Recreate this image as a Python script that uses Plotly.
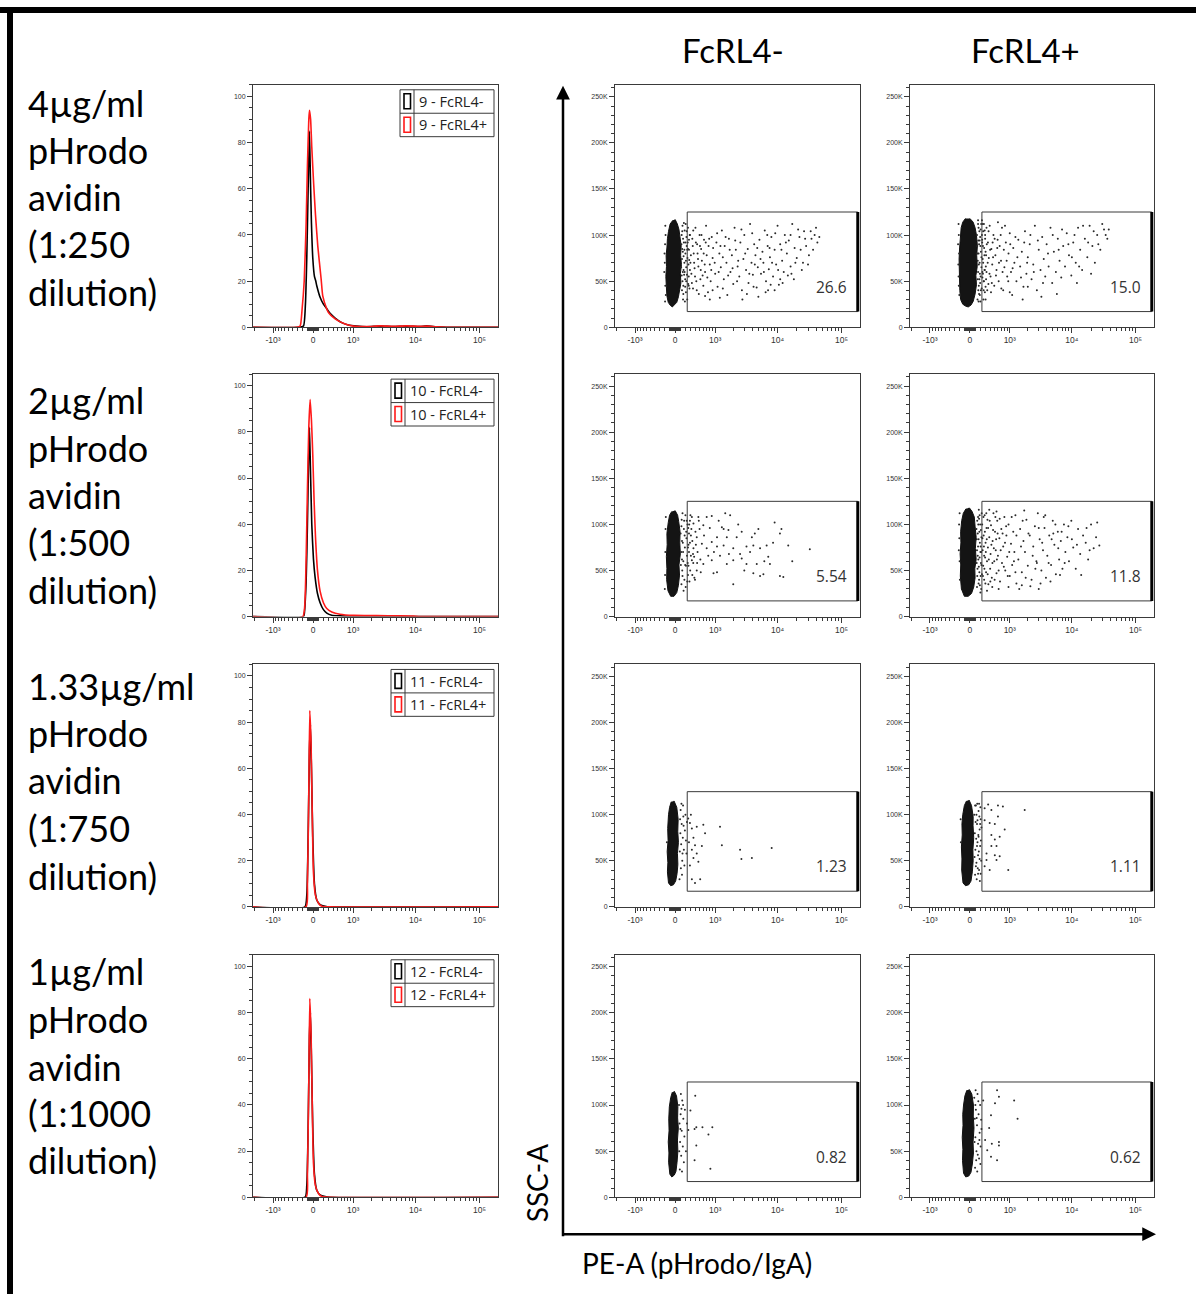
import numpy as np
import plotly.graph_objects as go

W, H = 1196, 1297

# ---------------------------------------------------------------- data
ROW_LABELS = [
    ["4µg/ml", "pHrodo", "avidin", "(1:250", "dilution)"],
    ["2µg/ml", "pHrodo", "avidin", "(1:500", "dilution)"],
    ["1.33µg/ml", "pHrodo", "avidin", "(1:750", "dilution)"],
    ["1µg/ml", "pHrodo", "avidin", "(1:1000", "dilution)"],
]
COLUMN_TITLES = ["FcRL4-", "FcRL4+"]
SAMPLE_IDS = [9, 10, 11, 12]
GATE_PCT_NEG = ["26.6", "5.54", "1.23", "0.82"]
GATE_PCT_POS = ["15.0", "11.8", "1.11", "0.62"]
GATE_PE = [225, 180000]          # PE-A limits of the gate
GATE_SSC = [17, 125]             # SSC-A limits of the gate (thousands)

X_RANGE_PE = [-2150, 195000]
X_TICK_VALUES = [-1000, 0, 1000, 10000, 100000]
X_TICK_TEXT = ["-10³", "0", "10³", "10⁴", "10⁵"]
HIST_Y_TICKS = [0, 20, 40, 60, 80, 100]
SSC_TICKS = [0, 50, 100, 150, 200, 250]
SSC_TICK_TEXT = ["0", "50K", "100K", "150K", "200K", "250K"]

# histograms: PE-A value vs % of max
H1_NEG_X = [-2150, -276, -177, -140, -115, -90, -66, -49, -30, -6, 24, 48, 66, 127, 190, 256, 325, 439, 612, 820, 1150, 1690, 2760, 4490, 7250, 11700, 14900, 21400, 30700, 195000]
H1_NEG_Y = [0, 0, 0.5, 10, 30, 60, 85, 65, 45, 30, 22, 20, 18, 13, 10, 8, 6, 4, 2, 1, 0.5, 0.2, 0.5, 0.3, 0.5, 0.3, 0.6, 0.2, 0, 0]
H1_POS_X = [-2150, -310, -242, -203, -163, -127, -103, -78, -66, -45, -24, 10, 42, 85, 146, 177, 256, 290, 439, 711, 1010, 1700, 2800, 4500, 7200, 11700, 15000, 21000, 31000, 195000]
H1_POS_Y = [0, 0, 0.5, 8, 20, 45, 70, 90, 94, 90, 78, 62, 49, 35, 21, 13.6, 7.9, 6.4, 3.6, 1.4, 0.5, 0.3, 0.6, 0.4, 0.6, 0.4, 0.5, 0.2, 0, 0]

H2_NEG_X = [-2150, -177, -163, -127, -103, -84, -66, -49, -24, 6, 36, 79, 127, 190, 256, 362, 565, 1010, 1500, 195000]
H2_NEG_Y = [0, 0, 1, 15, 40, 65, 82, 65, 40, 25, 17, 10, 6, 3, 1.5, 0.6, 0.3, 0.1, 0, 0]
H2_POS_X = [-2150, -190, -152, -127, -103, -78, -54, -30, -6, 18, 42, 79, 127, 190, 256, 362, 565, 1010, 2450, 5700, 9200, 12000, 195000]
H2_POS_Y = [0, 0, 5, 25, 55, 82, 94, 85, 70, 50, 35, 20, 11, 6, 3.5, 2, 1, 0.5, 0.4, 0.3, 0.2, 0, 0]

H3_NEG_X = [-2150, -150, -115, -90, -66, -49, -30, -6, 24, 66, 127, 222, 330, 195000]
H3_NEG_Y = [0, 0, 5, 30, 68, 79, 60, 30, 10, 3, 1, 0.3, 0, 0]
H3_POS_X = [-2150, -130, -103, -78, -60, -36, -12, 6, 42, 100, 160, 320, 195000]
H3_POS_Y = [0, 0, 10, 50, 85, 70, 35, 15, 5, 1.5, 0.3, 0, 0]

H4_NEG_X = [-2150, -146, -115, -90, -66, -49, -30, -6, 24, 66, 127, 222, 330, 195000]
H4_NEG_Y = [0, 0, 5, 30, 70, 80, 60, 30, 10, 3, 1, 0.3, 0, 0]
H4_POS_X = [-2150, -127, -103, -78, -60, -36, -12, 6, 42, 100, 160, 320, 195000]
H4_POS_Y = [0, 0, 10, 50, 86, 70, 35, 15, 5, 1.5, 0.3, 0, 0]

# dot plots: (PE-A, SSC-A in thousands)
A_CORE = [(-40, 116), (-90, 112), (-120, 104), (-140, 96), (-150, 86), (-165, 78), (-158, 66), (-170, 55), (-160, 44), (-150, 34), (-125, 27), (-90, 24), (-50, 22), (-10, 24), (30, 27), (60, 33), (80, 40), (105, 48), (95, 58), (115, 68), (100, 78), (110, 88), (88, 98), (70, 106), (40, 112), (0, 117)]
A_HALO = [(120, 100), (130, 85), (140, 60), (150, 45), (160, 92), (170, 70), (175, 105), (185, 52), (190, 80), (200, 38), (205, 65), (210, 98), (215, 88), (220, 57), (230, 75), (240, 108), (245, 47), (250, 68), (260, 84), (270, 42), (280, 100), (125, 40), (135, 110), (145, 30), (155, 77), (165, 57), (195, 112), (225, 30), (110, 65), (115, 90), (-190, 70), (-185, 90), (-180, 45), (-175, 100), (-200, 60), (-170, 35), (180, 28), (235, 92), (255, 55), (265, 73),
          (125, 74), (135, 50), (145, 96), (155, 62), (170, 84), (185, 44), (200, 72), (215, 104), (150, 36), (120, 56), (130, 104), (160, 113), (-195, 80), (-180, 110), (-185, 28), (140, 82), (175, 60), (190, 92), (205, 50), (225, 84)]
A_GATE = [(260, 95), (280, 62), (300, 78), (320, 48), (340, 88), (350, 105), (370, 70), (390, 55), (410, 92), (430, 40), (450, 80), (470, 66), (500, 100), (520, 52), (540, 85), (560, 72), (600, 45), (620, 95), (650, 60), (680, 110), (700, 78), (740, 38), (760, 88), (800, 68), (830, 50), (870, 98), (900, 75),
          (1000, 58), (1050, 92), (1100, 44), (1180, 80), (1250, 65), (1300, 105), (1400, 52), (1450, 88), (1550, 70), (1600, 35), (1700, 96), (1800, 60), (1900, 78), (2000, 47), (2100, 108), (2200, 84), (2350, 66), (2500, 55), (2600, 92), (2750, 40), (2900, 74), (3000, 100), (3200, 62), (3400, 85), (3500, 48), (3700, 112), (3900, 70), (4100, 57), (4300, 90), (4500, 78), (4700, 43), (4900, 65),
          (5200, 95), (5500, 58), (5800, 82), (6000, 70), (6300, 105), (6600, 50), (7000, 88), (7300, 63), (7600, 76), (8000, 98), (8500, 55), (9000, 84), (9500, 68), (10000, 110), (10500, 46), (11000, 90), (11800, 72), (12500, 60), (13000, 100), (14000, 80), (15000, 94), (16000, 66), (17000, 112), (18500, 86), (20000, 75), (22000, 98), (24000, 62), (26000, 104), (28000, 88), (31000, 78), (34000, 96), (38000, 100), (42000, 92),
          (1200, 32), (2800, 30), (6500, 38), (9000, 40), (3300, 36), (800, 30), (5000, 33), (11000, 52), (7800, 46), (16500, 58), (25000, 70),
          (240, 85), (255, 45), (275, 100), (290, 70), (310, 58), (330, 96), (345, 42), (360, 80), (380, 64), (400, 108), (420, 50), (440, 90), (460, 74), (480, 36), (510, 88), (530, 62), (550, 100), (580, 56), (610, 80), (640, 68), (670, 92), (720, 54), (780, 96), (850, 62), (920, 86), (980, 70), (1080, 102), (1150, 60), (1230, 88), (1350, 76), (1500, 98), (1650, 56), (1750, 84), (1950, 64), (2150, 94), (2400, 72), (2700, 106), (3100, 80), (3600, 58), (4000, 102), (4400, 68), (4800, 86), (5400, 74), (6100, 60), (6900, 100), (7500, 86), (8200, 70), (9200, 102), (10200, 62), (11500, 84), (13500, 92), (14500, 56), (16000, 100), (19000, 70), (21000, 106), (23000, 84), (27000, 96), (30000, 68), (33000, 104), (36000, 84), (40000, 108), (45000, 98), (2300, 50), (4200, 44), (7100, 40), (12000, 48), (18000, 52), (900, 40), (650, 34), (1350, 42)]

B_CORE = [(-80, 118), (-130, 114), (-160, 108), (-180, 98), (-190, 86), (-200, 74), (-192, 62), (-198, 50), (-186, 40), (-170, 30), (-130, 25), (-80, 23), (-30, 22), (20, 24), (60, 28), (95, 36), (120, 46), (110, 56), (135, 66), (125, 78), (138, 88), (120, 100), (95, 108), (60, 114), (0, 118)]
B_HALO = [(130, 100), (140, 80), (150, 60), (160, 108), (165, 45), (170, 90), (180, 70), (185, 35), (190, 98), (200, 55), (205, 82), (210, 112), (215, 65), (220, 42), (230, 92), (240, 74), (250, 104), (260, 50), (270, 86), (280, 62), (290, 96), (300, 44), (310, 78), (320, 108), (140, 30), (150, 116), (160, 28), (175, 52), (195, 28), (225, 116), (255, 30), (145, 72), (135, 88), (155, 40), (245, 58), (265, 112), (285, 38), (305, 66), (-200, 80), (-210, 55), (-205, 100), (-195, 35), (-215, 68),
          (145, 52), (155, 94), (165, 68), (175, 104), (185, 58), (195, 88), (205, 40), (215, 76), (225, 100), (235, 54), (150, 112), (160, 80), (170, 36), (180, 94), (190, 48), (200, 106), (-220, 90), (-205, 45), (-210, 112)]
B_GATE = [(230, 95), (250, 70), (265, 50), (280, 105), (300, 82), (320, 60), (335, 40), (350, 92), (370, 75), (390, 110), (410, 55), (430, 85), (450, 68), (480, 100), (500, 45), (530, 78), (560, 62), (590, 95), (620, 50), (650, 88), (690, 72), (720, 108), (760, 40), (800, 65), (850, 92), (900, 55), (950, 80), (1000, 102), (1050, 60), (1100, 35), (1150, 86), (1200, 70), (240, 112), (300, 30), (420, 38), (600, 114), (280, 62), (360, 47), (460, 92),
          (1300, 50), (1400, 95), (1500, 66), (1600, 82), (1700, 44), (1800, 104), (1900, 58), (2000, 76), (2150, 90), (2300, 52), (2450, 68), (2600, 110), (2800, 40), (3000, 84), (3200, 62), (3400, 98), (3600, 74), (3800, 55), (4000, 90), (4300, 66), (4600, 108), (4900, 48), (5200, 82), (5600, 60), (6000, 96), (6400, 72), (6800, 54), (7300, 88), (7800, 66), (8300, 102), (9000, 78), (1650, 30), (3300, 33), (5800, 36),
          (9800, 56), (10500, 92), (11500, 70), (12500, 108), (13500, 84), (14500, 62), (16000, 96), (17500, 76), (19000, 110), (21000, 88), (23000, 70), (25000, 100), (28000, 84), (32000, 106), (36000, 96), (12000, 48), (20000, 58),
          (235, 60), (245, 88), (260, 40), (275, 78), (290, 100), (310, 52), (325, 90), (345, 70), (365, 104), (385, 58), (400, 84), (440, 48), (470, 76), (510, 96), (545, 56), (580, 86), (630, 70), (680, 100), (740, 60), (780, 84), (820, 110), (880, 72), (940, 50), (1020, 90), (1120, 64), (1250, 98), (1350, 76), (1550, 54), (1750, 92), (1950, 70), (2200, 100), (2500, 60), (2900, 94), (3500, 48), (4200, 80), (5000, 100), (6200, 84), (7000, 106), (8800, 90), (10000, 76), (11000, 100), (13000, 66), (15000, 110), (18000, 92), (22000, 104), (26000, 90), (30000, 112), (34000, 100), (38000, 106), (700, 42), (1000, 38), (2000, 44)]

C_CORE = [(-60, 114), (-100, 110), (-125, 102), (-150, 90), (-145, 78), (-160, 65), (-150, 52), (-155, 40), (-130, 28), (-80, 22), (-20, 22), (30, 26), (60, 34), (80, 45), (70, 56), (95, 68), (85, 80), (90, 92), (65, 103), (45, 110), (0, 115)]
C_HALO = [(100, 90), (110, 70), (120, 105), (130, 50), (140, 80), (150, 60), (160, 95), (170, 40), (180, 75), (190, 110), (200, 55), (210, 85), (220, 66), (230, 100), (240, 45), (250, 78), (115, 35), (125, 62), (135, 112), (155, 28), (175, 88), (195, 32), (215, 104), (235, 58), (-180, 70), (-175, 95), (-185, 45),
          (105, 56), (115, 98), (125, 82), (135, 44), (145, 70), (165, 104), (185, 56), (205, 92), (225, 38), (245, 96), (-170, 108), (-190, 30)]
C_GATE = [(470, 108), (700, 108), (870, 109), (1480, 112), (1780, 110), (280, 104), (355, 101), (600, 99), (1300, 97), (1390, 95), (2730, 92), (3950, 86), (5000, 95), (11500, 95), (10900, 90), (5320, 74), (6750, 77), (7150, 65), (7600, 57), (3700, 70), (4170, 77), (3250, 76), (2730, 63), (2000, 61), (1570, 57), (1075, 48), (870, 61), (700, 74), (600, 57), (430, 50), (390, 40), (1075, 76), (1210, 66), (2000, 35), (4170, 47), (5320, 44), (6000, 46), (10900, 44), (12300, 43), (14700, 77), (32000, 73), (870, 81), (430, 86), (355, 74), (560, 79), (320, 61), (935, 47), (1075, 86), (1570, 86), (2000, 74), (2270, 86), (2570, 68), (3250, 57), (4720, 57), (1390, 77), (1670, 94),
          (260, 90), (300, 66), (250, 55), (330, 45), (280, 80), (310, 95), (270, 38), (350, 58), (290, 110), (260, 70), (400, 92), (330, 82), (370, 65), (450, 70), (500, 95), (520, 62),
          (240, 75), (265, 100), (285, 50), (300, 88), (320, 108), (345, 68), (375, 42), (410, 78), (440, 58), (480, 104), (530, 48), (620, 88), (750, 66), (800, 96), (950, 70), (1150, 104), (1700, 68), (2400, 100), (3000, 50), (4400, 90), (6200, 60), (8500, 80), (9000, 102), (17000, 60)]

D_CORE = [(-70, 117), (-120, 112), (-150, 104), (-170, 92), (-165, 80), (-180, 68), (-168, 56), (-176, 44), (-155, 30), (-100, 22), (-30, 22), (30, 25), (70, 32), (95, 42), (90, 52), (115, 62), (100, 74), (115, 86), (95, 98), (80, 108), (40, 114), (-10, 118)]
D_HALO = [(120, 95), (130, 72), (140, 52), (150, 108), (160, 84), (170, 40), (180, 64), (190, 100), (200, 76), (210, 30), (215, 56), (220, 112), (130, 32), (145, 90), (155, 62), (165, 116), (175, 48), (185, 80), (195, 26), (205, 94), (125, 58), (135, 104), (160, 36), (180, 110), (200, 44), (210, 70), (-190, 60), (-195, 85), (-185, 40), (-200, 100),
          (125, 84), (135, 44), (145, 66), (155, 100), (165, 54), (175, 92), (185, 34), (195, 70), (205, 58), (215, 86), (225, 46), (150, 76), (170, 106), (-205, 72), (-190, 112)]
D_GATE = [(230, 100), (240, 72), (250, 55), (260, 88), (270, 40), (280, 110), (290, 64), (300, 80), (310, 48), (320, 96), (330, 60), (340, 105), (350, 75), (360, 35), (380, 86), (400, 52), (410, 68), (420, 99), (440, 42), (460, 82), (480, 112), (500, 60), (520, 92), (540, 72), (560, 47), (580, 104), (600, 66), (640, 85), (660, 38), (700, 95), (720, 58), (760, 76), (800, 108), (830, 50), (870, 88), (900, 65), (950, 100), (1000, 44), (1050, 79), (1100, 56), (1150, 92), (1200, 70), (1250, 110), (1300, 36), (270, 66), (330, 28), (450, 32), (380, 116), (560, 114), (620, 30),
          (1400, 62), (1500, 95), (1600, 48), (1700, 82), (1800, 70), (1900, 105), (2000, 55), (2150, 88), (2300, 40), (2450, 76), (2600, 98), (2750, 60), (2900, 112), (3100, 84), (3300, 50), (3500, 72), (3700, 96), (3900, 42), (4100, 66), (4400, 88), (4700, 56), (5000, 104), (5300, 78), (5600, 46), (6000, 92), (6300, 62), (6700, 82), (7100, 52), (7500, 100), (7900, 70), (1450, 30), (2200, 33), (3200, 36), (4600, 38), (1750, 115), (2800, 58), (3600, 108), (5100, 90), (6500, 45), (1250, 48),
          (8500, 86), (9000, 60), (9800, 104), (10500, 75), (11500, 52), (12500, 95), (13500, 68), (15000, 88), (16500, 80), (18000, 62), (20000, 100), (22000, 74), (25000, 102), (27000, 77), (14000, 45),
          (235, 85), (245, 44), (255, 108), (265, 76), (275, 52), (285, 92), (295, 36), (305, 70), (315, 112), (325, 84), (345, 46), (355, 96), (370, 62), (390, 104), (405, 38), (430, 78), (455, 58), (470, 94), (490, 74), (510, 40), (530, 108), (550, 84), (570, 62), (590, 90), (620, 50), (650, 106), (680, 72), (740, 90), (780, 54), (820, 80), (860, 98), (920, 44), (980, 70), (1080, 108), (1180, 60), (1300, 88), (1550, 76), (1650, 104), (1850, 42), (2050, 90), (2400, 66), (2650, 52), (3000, 96), (3400, 80), (3800, 110), (4300, 58), (4800, 84), (5500, 100), (6100, 74), (6900, 92), (7700, 58), (8800, 98), (10000, 84), (12000, 78), (17000, 96), (19000, 72), (24000, 86), (950, 32), (1600, 34), (3000, 30)]

E_CORE = [(-70, 114), (-100, 108), (-120, 100), (-135, 85), (-128, 72), (-145, 60), (-132, 48), (-140, 38), (-120, 26), (-80, 23), (-30, 24), (10, 28), (35, 36), (50, 46), (42, 58), (60, 70), (48, 82), (55, 95), (30, 108), (-20, 115)]
E_HALO = [(100, 105), (120, 90), (140, 75), (160, 62), (130, 50), (150, 98), (180, 83), (110, 68), (170, 45), (200, 72), (190, 100), (125, 35), (145, 110), (210, 58), (95, 80), (105, 42), (220, 92), (135, 58), (85, 60), (90, 95), (115, 112), (155, 88), (80, 30), (-150, 70)]
E_GATE = [(245, 96), (280, 91), (320, 85), (355, 75), (390, 67), (320, 62), (430, 58), (355, 53), (430, 87), (600, 89), (650, 80), (560, 66), (470, 49), (320, 30), (390, 26), (515, 30), (1210, 87), (1300, 67), (2570, 62), (2700, 52), (3950, 53), (8100, 64), (260, 70), (300, 100), (280, 45)]

F_CORE = [(-60, 115), (-100, 110), (-130, 100), (-145, 90), (-140, 78), (-155, 65), (-145, 52), (-150, 40), (-125, 26), (-80, 23), (-20, 24), (20, 28), (45, 38), (60, 50), (55, 62), (70, 75), (58, 88), (60, 98), (30, 110), (-15, 116)]
F_HALO = [(80, 100), (90, 80), (100, 62), (110, 110), (120, 48), (130, 90), (140, 70), (150, 56), (160, 104), (170, 40), (180, 84), (190, 66), (200, 95), (210, 50), (95, 35), (105, 92), (115, 74), (125, 30), (135, 112), (145, 42), (155, 78), (165, 60), (175, 98), (185, 28), (195, 108), (205, 72), (215, 86), (-165, 70), (-170, 95),
          (85, 54), (95, 110), (110, 44), (120, 100), (130, 66), (140, 94), (150, 36), (160, 76), (170, 112), (180, 52), (190, 90), (200, 36)]
F_GATE = [(280, 107), (355, 111), (430, 105), (600, 110), (750, 109), (1780, 105), (280, 94), (390, 91), (515, 90), (600, 98), (430, 78), (515, 73), (650, 76), (810, 84), (430, 66), (560, 66), (320, 58), (515, 56), (650, 55), (280, 44), (390, 40), (940, 40), (320, 51), (560, 51)]

G_CORE = [(-50, 114), (-80, 108), (-105, 98), (-115, 85), (-110, 72), (-125, 60), (-112, 48), (-118, 38), (-95, 25), (-60, 22), (-15, 24), (15, 28), (35, 38), (50, 50), (42, 62), (58, 75), (45, 86), (50, 98), (25, 110), (-15, 115)]
G_HALO = [(70, 100), (80, 80), (90, 60), (100, 90), (110, 45), (120, 72), (130, 105), (140, 55), (150, 85), (160, 38), (170, 66), (180, 95), (200, 50), (220, 80), (85, 30), (105, 112), (125, 28), (145, 100), (75, 50), (95, 74), (115, 96)]
G_GATE = [(395, 110), (290, 94), (247, 73), (380, 74), (420, 76), (575, 76), (890, 76), (755, 68), (420, 56), (380, 40), (820, 31)]

H_CORE = [(-55, 116), (-90, 110), (-115, 100), (-130, 90), (-125, 78), (-140, 65), (-128, 52), (-135, 40), (-115, 26), (-75, 22), (-20, 23), (20, 27), (45, 36), (65, 48), (58, 60), (75, 75), (62, 88), (65, 100), (35, 112), (-10, 117)]
H_HALO = [(80, 108), (90, 85), (100, 65), (110, 95), (120, 50), (130, 78), (140, 112), (150, 58), (160, 90), (170, 42), (180, 70), (190, 100), (200, 55), (210, 84), (95, 32), (115, 40), (135, 28), (155, 104), (175, 62), (195, 36), (215, 74), (105, 116), (85, 60), (100, 100), (125, 86), (145, 46)]
H_GATE = [(575, 116), (628, 109), (1190, 105), (1360, 85), (520, 102), (420, 89), (378, 75), (440, 58), (628, 60), (628, 56), (420, 44), (575, 40), (290, 62), (335, 51), (250, 105)]

# ---------------------------------------------------------------- scale
LN10 = np.log(10.0)


def biex(v):
    """Biexponential (FlowJo-like) display scale for PE-A, in decades."""
    return (np.arcsinh(np.asarray(v, dtype=float) / 500.0) / LN10).tolist()


X_MINOR = ([-2000] + [-k * 100 for k in range(1, 10)] + [-k * 10 for k in range(1, 10)]
           + [k * 10 for k in range(1, 10)] + [k * 100 for k in range(1, 10)]
           + [k * 1000 for k in range(2, 10)] + [k * 10000 for k in range(2, 10)])

# ---------------------------------------------------------------- layout geometry (pixels)
ROW_TOP = [85, 375, 666, 957]
PANEL_H = 243
COLS = [(253, 498), (615, 860), (910, 1154)]
LABEL_CENTERS = [[103, 150, 197, 245, 293], [401, 449, 496, 543, 591],
                 [688, 735, 782, 830, 878], [973, 1021, 1069, 1116, 1163]]


def fx(px):
    return px / W


def fy(py):
    return 1 - py / H


AX_COLOR = "#3a3a3a"
TICK_FONT = dict(family="Liberation Sans", size=7, color="#333333")
XTICK_FONT = dict(family="Liberation Sans", size=8.5, color="#333333")
DOT_COLOR = "#2a2a2a"

fig = go.Figure()
layout = dict(width=W, height=H, margin=dict(l=0, r=0, t=0, b=0),
              paper_bgcolor="white", plot_bgcolor="white", showlegend=False)
shapes, annotations = [], []

hist_data = [(H1_NEG_X, H1_NEG_Y, H1_POS_X, H1_POS_Y), (H2_NEG_X, H2_NEG_Y, H2_POS_X, H2_POS_Y),
             (H3_NEG_X, H3_NEG_Y, H3_POS_X, H3_POS_Y), (H4_NEG_X, H4_NEG_Y, H4_POS_X, H4_POS_Y)]
dot_data = [[(A_CORE, A_HALO, A_GATE), (B_CORE, B_HALO, B_GATE)],
            [(C_CORE, C_HALO, C_GATE), (D_CORE, D_HALO, D_GATE)],
            [(E_CORE, E_HALO, E_GATE), (F_CORE, F_HALO, F_GATE)],
            [(G_CORE, G_HALO, G_GATE), (H_CORE, H_HALO, H_GATE)]]


def add_axes(n, col, row, ytickvals, yticktext, yrange, ydminor):
    l, r = COLS[col]
    top = ROW_TOP[row]
    common = dict(showline=True, mirror=True, linecolor=AX_COLOR, linewidth=1, ticks="outside",
                  tickwidth=1, tickcolor=AX_COLOR, showgrid=False, zeroline=False,
                  fixedrange=True)
    xk = "xaxis" if n == 1 else f"xaxis{n}"
    yk = "yaxis" if n == 1 else f"yaxis{n}"
    layout[xk] = dict(common, domain=[fx(l), fx(r)], anchor="y" if n == 1 else f"y{n}",
                      range=biex(X_RANGE_PE), tickmode="array", tickvals=biex(X_TICK_VALUES),
                      ticktext=X_TICK_TEXT, ticklen=5, tickfont=XTICK_FONT,
                      minor=dict(tickmode="array", tickvals=biex(X_MINOR), ticks="outside",
                                 ticklen=3, tickwidth=1, tickcolor=AX_COLOR, showgrid=False))
    layout[yk] = dict(common, domain=[fy(top + PANEL_H), fy(top)], anchor="x" if n == 1 else f"x{n}",
                      range=yrange, tickmode="array", tickvals=ytickvals, ticktext=yticktext, ticklen=5,
                      tickfont=TICK_FONT,
                      minor=dict(tick0=0, dtick=ydminor, ticks="outside", ticklen=3, tickwidth=1,
                                 tickcolor=AX_COLOR, showgrid=False))


def pts(lst, i):
    return [p[i] for p in lst]


for row in range(4):
    # ---------------- histogram
    n = 3 * row + 1
    add_axes(n, 0, row, HIST_Y_TICKS, [str(v) for v in HIST_Y_TICKS], [0, 105], 5)
    xr = "x" if n == 1 else f"x{n}"
    yr = "y" if n == 1 else f"y{n}"
    nx, ny, px_, py_ = hist_data[row]
    fig.add_trace(go.Scatter(x=biex(nx), y=ny, mode="lines", xaxis=xr, yaxis=yr,
                             line=dict(color="black", width=1.6, shape="spline", smoothing=0.5)))
    fig.add_trace(go.Scatter(x=biex(px_), y=py_, mode="lines", xaxis=xr, yaxis=yr,
                             line=dict(color="#ff1a1a", width=1.6, shape="spline", smoothing=0.5)))
    # legend box
    top = ROW_TOP[row] + 5
    left = 400 if row == 0 else 391
    right = 494
    div = left + 14
    shapes.append(dict(type="rect", xref="paper", yref="paper", x0=fx(left), x1=fx(right),
                       y0=fy(top + 47), y1=fy(top), line=dict(color=AX_COLOR, width=1),
                       fillcolor="white", layer="above"))
    shapes.append(dict(type="line", xref="paper", yref="paper", x0=fx(div), x1=fx(div),
                       y0=fy(top + 47), y1=fy(top), line=dict(color=AX_COLOR, width=1), layer="above"))
    shapes.append(dict(type="line", xref="paper", yref="paper", x0=fx(left), x1=fx(right),
                       y0=fy(top + 23.5), y1=fy(top + 23.5), line=dict(color=AX_COLOR, width=1), layer="above"))
    for k, (col, suffix) in enumerate([("black", "FcRL4-"), ("#ff1a1a", "FcRL4+")]):
        y0 = top + 4 + 23.5 * k
        shapes.append(dict(type="rect", xref="paper", yref="paper", x0=fx(left + 4), x1=fx(left + 10.5),
                           y0=fy(y0 + 15), y1=fy(y0), line=dict(color=col, width=1.6), layer="above"))
        annotations.append(dict(x=fx(div + 3), y=fy(top + 11.75 + 23.5 * k), xref="paper", yref="paper",
                                xanchor="left", yanchor="middle", showarrow=False,
                                text=f"{SAMPLE_IDS[row]} - {suffix}",
                                font=dict(family="Open Sans", size=14.5, color="#222222")))

    # ---------------- dot plots
    for c in range(2):
        n = 3 * row + 2 + c
        add_axes(n, 1 + c, row, SSC_TICKS, SSC_TICK_TEXT, [0, 263], 10)
        xr, yr = f"x{n}", f"y{n}"
        core, halo, gate = dot_data[row][c]
        fig.add_trace(go.Scatter(x=biex(pts(core, 0)), y=pts(core, 1), mode="lines", fill="toself",
                                 fillcolor="rgba(0,0,0,0.92)", line=dict(color="#111111", width=1),
                                 xaxis=xr, yaxis=yr))
        fig.add_trace(go.Scatter(x=biex(pts(halo, 0)), y=pts(halo, 1), mode="markers", xaxis=xr, yaxis=yr,
                                 marker=dict(size=2, color=DOT_COLOR, line=dict(width=0))))
        fig.add_trace(go.Scatter(x=biex(pts(gate, 0)), y=pts(gate, 1), mode="markers", xaxis=xr, yaxis=yr,
                                 marker=dict(size=2, color=DOT_COLOR, line=dict(width=0))))
        gx0, gx1 = biex(GATE_PE)
        shapes.append(dict(type="rect", xref=xr, yref=yr, x0=gx0, x1=gx1, y0=GATE_SSC[0], y1=GATE_SSC[1],
                           line=dict(color=AX_COLOR, width=1)))
        shapes.append(dict(type="line", xref=xr, yref=yr, x0=gx1, x1=gx1, y0=GATE_SSC[0], y1=GATE_SSC[1],
                           line=dict(color="black", width=3)))
        pct = GATE_PCT_NEG[row] if c == 0 else GATE_PCT_POS[row]
        annotations.append(dict(x=gx1, y=44, xref=xr, yref=yr, xanchor="right", yanchor="middle",
                                xshift=-9, showarrow=False, text=pct,
                                font=dict(family="Open Sans", size=15.5, color="#333333")))

    # ---------------- row labels
    for k, line in enumerate(ROW_LABELS[row]):
        annotations.append(dict(x=fx(26), y=fy(LABEL_CENTERS[row][k]), xref="paper", yref="paper",
                                xanchor="left", yanchor="middle", showarrow=False, text=line,
                                font=dict(family="Lato", size=36, color="black")))

# column titles
for cx, t in zip([733, 1025], COLUMN_TITLES):
    annotations.append(dict(x=fx(cx), y=fy(50), xref="paper", yref="paper", xanchor="center",
                            yanchor="middle", showarrow=False, text=t,
                            font=dict(family="Lato", size=33, color="black")))

# axis titles
annotations.append(dict(x=fx(537), y=fy(1186), xref="paper", yref="paper", xanchor="center",
                        yanchor="middle", showarrow=False, text="SSC-A", textangle=-90,
                        font=dict(family="Lato", size=28, color="black")))
annotations.append(dict(x=fx(580), y=fy(1266), xref="paper", yref="paper", xanchor="left",
                        yanchor="middle", showarrow=False, text="PE-A (pHrodo/IgA)",
                        font=dict(family="Lato", size=28, color="black")))

# arrows
annotations.append(dict(x=fx(563), y=fy(86), xref="paper", yref="paper", axref="pixel", ayref="pixel",
                        ax=0, ay=1152, showarrow=True, arrowhead=2, arrowsize=1.1, arrowwidth=2.5,
                        arrowcolor="black", text="", standoff=0))
annotations.append(dict(x=fx(1156), y=fy(1237), xref="paper", yref="paper", axref="pixel", ayref="pixel",
                        ax=-594, ay=0, showarrow=True, arrowhead=2, arrowsize=1.1, arrowwidth=2.5,
                        arrowcolor="black", text="", standoff=0))

# figure frame (thick top and left borders)
shapes.append(dict(type="rect", xref="paper", yref="paper", x0=0, x1=1, y0=fy(13), y1=fy(7),
                   fillcolor="black", line=dict(width=0)))
shapes.append(dict(type="rect", xref="paper", yref="paper", x0=fx(7), x1=fx(13), y0=0, y1=fy(7),
                   fillcolor="black", line=dict(width=0)))

layout["shapes"] = shapes
layout["annotations"] = annotations
fig.update_layout(**layout)
fig.write_html("out.html", config={"displayModeBar": False},
               post_script="document.body.style.margin='0px';document.body.style.overflow='hidden';")
